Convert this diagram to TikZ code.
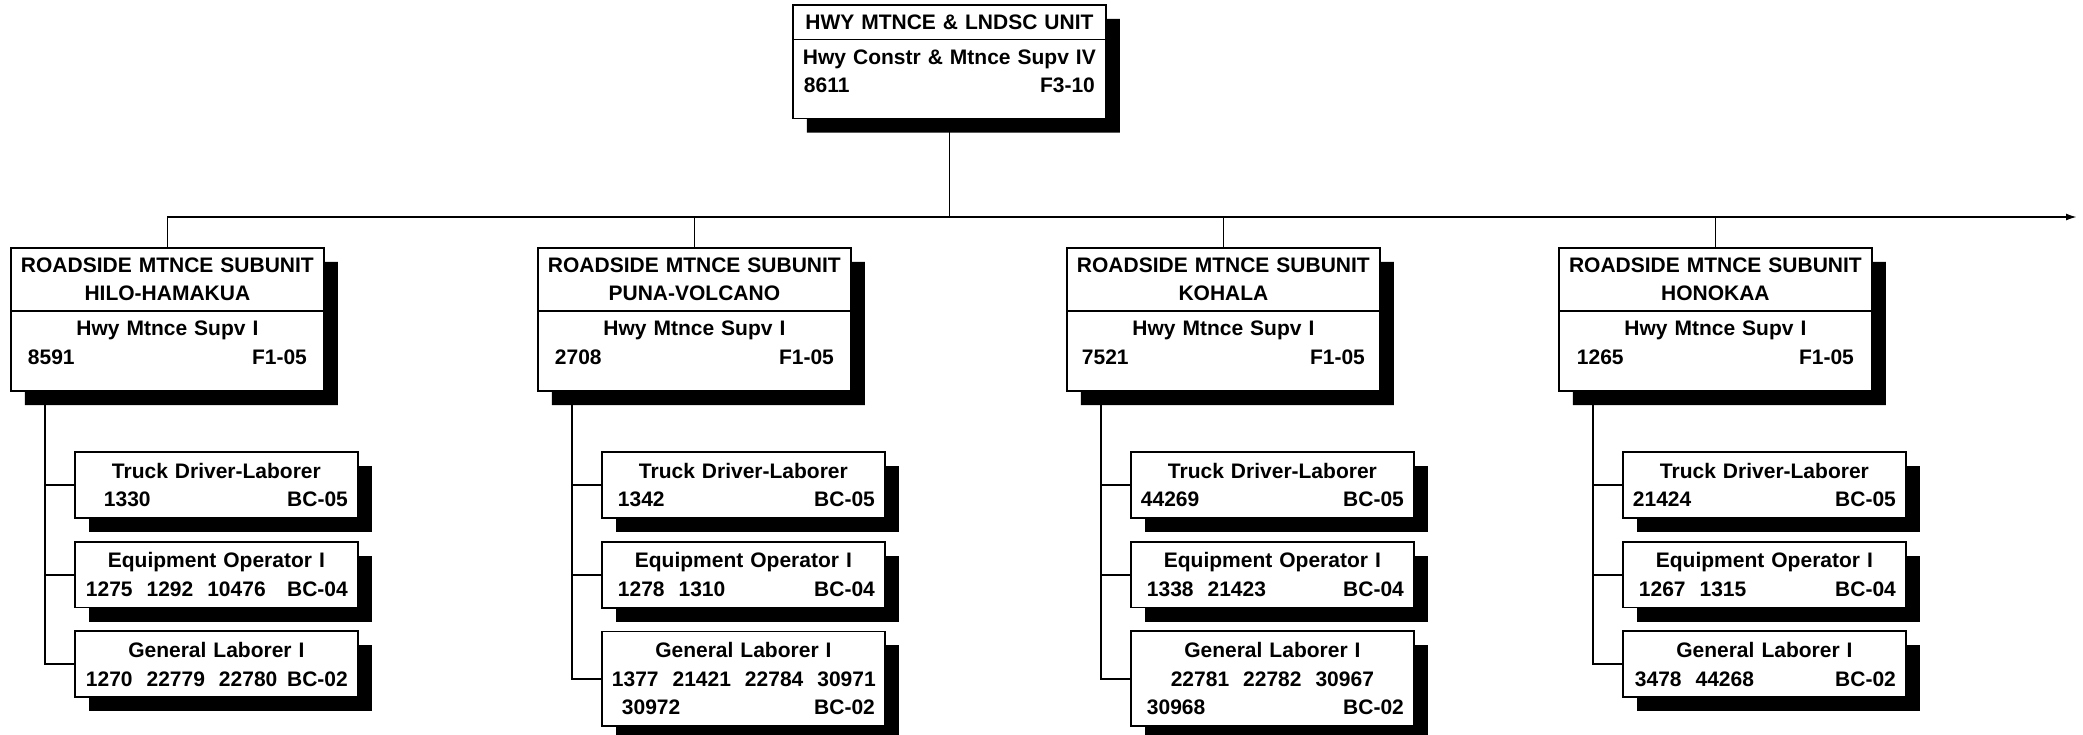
\documentclass[tikz,border=0pt]{standalone}
\usepackage{fontspec}
\setmainfont{Liberation Sans}
\usetikzlibrary{arrows.meta,positioning,shapes.multipart,shadows}

\newcommand{\posline}[3][5pt]{\hspace*{#1}#2\hfill#3\hspace*{#1}}

\begin{document}
\begin{tikzpicture}[>=Latex,x=1pt,y=-1pt,
link/.style={line width=1.8pt},
boxbase/.style={draw,line width=1.8pt,fill=white,inner xsep=10pt,inner ysep=11pt,align=center,
  font=\fontsize{21pt}{28.5pt}\selectfont\bfseries,
  drop shadow={shadow xshift=14pt,shadow yshift=-14pt,fill=black,opacity=1}},
unitbox/.style={boxbase,rectangle split,rectangle split parts=2,inner ysep=9pt,text width=293pt,anchor=north west},
staffbox/.style={boxbase,text width=263pt,anchor=north west}]

\useasboundingbox (0,0) rectangle (2083,735);

\node[unitbox] (unit) at (792,4) {HWY MTNCE \& LNDSC UNIT
  \nodepart{two} Hwy Constr \& Mtnce Supv IV\\ \posline[1pt]{8611}{F3-10}\rule[-16pt]{0pt}{0pt}};

\node[unitbox] (sub1) at (10,247) {ROADSIDE MTNCE SUBUNIT\\ HILO-HAMAKUA
  \nodepart{two} Hwy Mtnce Supv I\\ \posline[7pt]{8591}{F1-05}\rule[-17pt]{0pt}{0pt}};
\node[unitbox] (sub2) at (537,247) {ROADSIDE MTNCE SUBUNIT\\ PUNA-VOLCANO
  \nodepart{two} Hwy Mtnce Supv I\\ \posline[7pt]{2708}{F1-05}\rule[-17pt]{0pt}{0pt}};
\node[unitbox] (sub3) at (1066,247) {ROADSIDE MTNCE SUBUNIT\\ KOHALA
  \nodepart{two} Hwy Mtnce Supv I\\ \posline[5pt]{7521}{F1-05}\rule[-17pt]{0pt}{0pt}};
\node[unitbox] (sub4) at (1558,247) {ROADSIDE MTNCE SUBUNIT\\ HONOKAA
  \nodepart{two} Hwy Mtnce Supv I\\ \posline[8pt]{1265}{F1-05}\rule[-17pt]{0pt}{0pt}};

% hilo-hamakua
\node[staffbox] (tdl1) at (74,451) {Truck Driver-Laborer\\ \posline[19pt]{1330}{BC-05}};
\node[staffbox,below=22pt of tdl1.south west,anchor=north west] (eop1) {Equipment Operator I\\ \posline[1pt]{1275~~1292~~10476}{BC-04}};
\node[staffbox,below=22pt of eop1.south west,anchor=north west] (gen1) {General Laborer I\\ \posline[1pt]{1270~~22779~~22780}{BC-02}};

% puna-volcano
\node[staffbox] (tdl2) at (601,451) {Truck Driver-Laborer\\ \posline[6pt]{1342}{BC-05}};
\node[staffbox,below=22pt of tdl2.south west,anchor=north west] (eop2) {Equipment Operator I\\ \posline[6pt]{1278~~1310}{BC-04}};
\node[staffbox,below=22pt of eop2.south west,anchor=north west] (gen2) {General Laborer I\\ 1377~~21421~~22784~~30971\\ \posline[10pt]{30972}{BC-02}};

% kohala
\node[staffbox] (tdl3) at (1130,451) {Truck Driver-Laborer\\ \posline[0pt]{44269}{BC-05}};
\node[staffbox,below=22pt of tdl3.south west,anchor=north west] (eop3) {Equipment Operator I\\ \posline[6pt]{1338~~21423}{BC-04}};
\node[staffbox,below=22pt of eop3.south west,anchor=north west] (gen3) {General Laborer I\\ 22781~~22782~~30967\\ \posline[6pt]{30968}{BC-02}};

% honokaa
\node[staffbox] (tdl4) at (1622,451) {Truck Driver-Laborer\\ \posline[0pt]{21424}{BC-05}};
\node[staffbox,below=22pt of tdl4.south west,anchor=north west] (eop4) {Equipment Operator I\\ \posline[6pt]{1267~~1315}{BC-04}};
\node[staffbox,below=22pt of eop4.south west,anchor=north west] (gen4) {General Laborer I\\ \posline[2pt]{3478~~44268}{BC-02}};

% bus
\coordinate (busend) at (2077,217);
\draw[link] (unit.south) -- (unit.south |- busend);
\draw[link,-{Latex[length=11pt,width=7pt]}] (sub1.north |- busend) -- (busend);
\draw[link] (sub1.north) -- (sub1.north |- busend);
\draw[link] (sub2.north) -- (sub2.north |- busend);
\draw[link] (sub3.north) -- (sub3.north |- busend);
\draw[link] (sub4.north) -- (sub4.north |- busend);

% staff lines
\coordinate (v1) at ([xshift=35pt]sub1.south west);
\coordinate (v2) at ([xshift=35pt]sub2.south west);
\coordinate (v3) at ([xshift=35pt]sub3.south west);
\coordinate (v4) at ([xshift=35pt]sub4.south west);
\draw[link] (v1) |- (gen1.west);
\draw[link] (v1 |- tdl1.west) -- (tdl1.west);
\draw[link] (v1 |- eop1.west) -- (eop1.west);
\draw[link] (v2) |- (gen2.west);
\draw[link] (v2 |- tdl2.west) -- (tdl2.west);
\draw[link] (v2 |- eop2.west) -- (eop2.west);
\draw[link] (v3) |- (gen3.west);
\draw[link] (v3 |- tdl3.west) -- (tdl3.west);
\draw[link] (v3 |- eop3.west) -- (eop3.west);
\draw[link] (v4) |- (gen4.west);
\draw[link] (v4 |- tdl4.west) -- (tdl4.west);
\draw[link] (v4 |- eop4.west) -- (eop4.west);
\end{tikzpicture}
\end{document}
